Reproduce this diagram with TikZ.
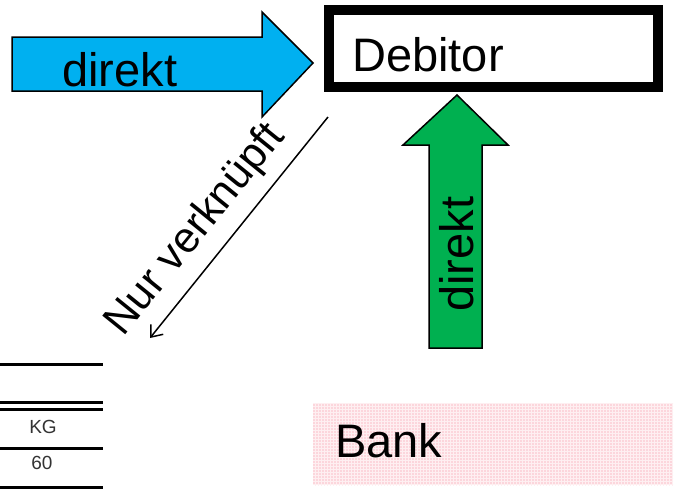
\documentclass[tikz,border=0pt]{standalone}
\usepackage{fontspec}
\setmainfont{Liberation Sans}
\usetikzlibrary{arrows.meta,patterns}
\definecolor{arrblue}{RGB}{0,176,240}
\definecolor{arrgreen}{RGB}{0,176,80}
\definecolor{bankpink}{RGB}{252,214,220}
\begin{document}
\begin{tikzpicture}[x=1pt,y=-1pt,
  bigtext/.style={font=\fontsize{47}{50}\selectfont, inner sep=0pt},
  fatarrow/.style={draw=black, line width=1.5pt, line join=miter},
  tabline/.style={line width=3pt},
  tabtext/.style={font=\fontsize{19}{20}\selectfont, text=black!80, inner sep=0pt}]
\useasboundingbox (0,0) rectangle (675,493);
% blue arrow
\filldraw[fatarrow, fill=arrblue] (12,37) -- (262,37) -- (262,12) -- (313,63) -- (262,117) -- (262,91) -- (12,91) -- cycle;
\node[bigtext, anchor=base west] (d1) at (62,86) {direkt};
% Debitor box
\draw[line width=10pt] (328.5,10) rectangle (658,87);
\node[bigtext, anchor=base west] (deb) at (352,71) {Debitor};
% green arrow
\filldraw[fatarrow, fill=arrgreen] (429,348) -- (429,145) -- (403,145) -- (457,95) -- (508,145) -- (482,145) -- (482,348) -- cycle;
\node[bigtext, rotate=90, anchor=base west] (d2) at (473,312) {direkt};
% Nur verknuepft
\coordinate (nstart) at (328,117);
\coordinate (nend) at (150,338);
\draw[line width=1.5pt, -{Straight Barb[length=10pt,width=16pt]}] (nstart) -- (nend);
\node[bigtext, font=\fontsize{43}{46}\selectfont, rotate=51, anchor=center] (nur) at (196,230) {Nur verknüpft};
% table fragment
\draw[tabline] (0,364) -- (103,364);
\draw[tabline] (0,402) -- (103,402);
\draw[tabline] (0,409) -- (103,409);
\draw[tabline] (0,448) -- (103,448);
\draw[tabline] (0,487) -- (103,487);
\node[tabtext] (kg) at (43,427) {KG};
\node[tabtext] (sixty) at (42,463) {60};
% Bank
\fill[bankpink] (313,403) rectangle (673,485);
\fill[pattern=grid, pattern color=white!60!bankpink] (313,403) rectangle (673,485);
\node[bigtext, anchor=base west] (bank) at (335,457) {Bank};
\end{tikzpicture}
\end{document}
